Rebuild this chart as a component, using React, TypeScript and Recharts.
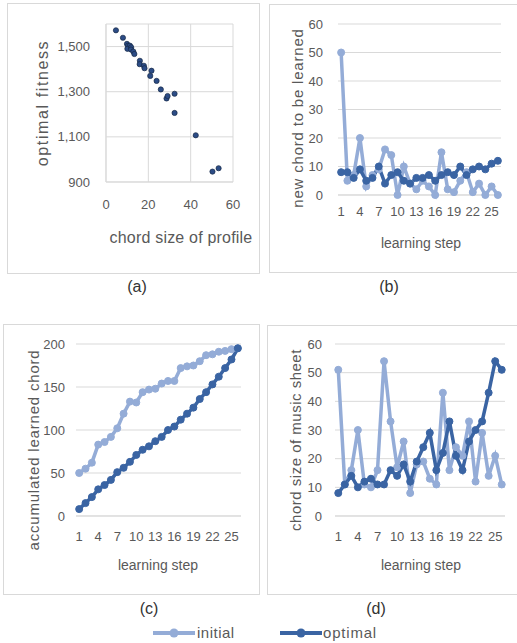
import React from "react";
import {
  LineChart,
  Line,
  ScatterChart,
  Scatter,
  XAxis,
  YAxis,
  CartesianGrid,
} from "recharts";

// ---------- data ----------
const profileChordSize = [4.7, 8.0, 9.9, 10.4, 11.3, 10.1, 11.9, 11.8, 12.9, 13.4, 16.0, 15.9, 17.9, 18.2, 21.5, 20.9, 23.9, 25.9, 28.6, 29.1, 32.4, 32.4, 42.4, 50.3, 53.2];
const optimalFitness = [1572, 1539, 1512, 1504, 1504, 1490, 1497, 1487, 1478, 1467, 1437, 1422, 1415, 1404, 1393, 1370, 1348, 1310, 1270, 1281, 1291, 1206, 1107, 946, 961];

const steps = [1, 2, 3, 4, 5, 6, 7, 8, 9, 10, 11, 12, 13, 14, 15, 16, 17, 18, 19, 20, 21, 22, 23, 24, 25, 26];
const stepTicks = [1, 4, 7, 10, 13, 16, 19, 22, 25];

const newChordInitial = [50, 5, 7, 20, 3, 7, 9, 16, 14, 0, 10, 4, 2, 5, 3, 0, 15, 2, 1, 5, 8, 1, 4, 0, 3, 0];
const newChordOptimal = [8, 8, 6, 9, 5, 6, 10, 4, 7, 8, 5, 4, 6, 6, 7, 5, 7, 8, 7, 10, 7, 9, 10, 9, 11, 12];

const accInitial = [50, 55, 62, 83, 86, 92, 102, 119, 133, 132, 144, 147, 148, 154, 157, 157, 172, 174, 175, 180, 187, 188, 191, 192, 194, 195];
const accOptimal = [8, 15, 22, 31, 36, 42, 51, 56, 63, 71, 77, 81, 87, 92, 100, 104, 112, 119, 126, 136, 144, 153, 162, 172, 182, 195];

const sheetInitial = [51, 11, 16, 30, 11, 10, 16, 54, 33, 17, 26, 8, 18, 19, 13, 11, 43, 16, 24, 21, 33, 12, 29, 14, 21, 11];
const sheetOptimal = [8, 11, 14, 10, 12, 13, 11, 11, 16, 14, 18, 12, 19, 24, 29, 16, 22, 33, 21, 16, 26, 30, 33, 43, 54, 51];

const fitnessTicks = [900, 1100, 1300, 1500];
const sizeTicks = [0, 20, 40, 60];
const ticks60 = [0, 10, 20, 30, 40, 50, 60];
const ticks200 = [0, 50, 100, 150, 200];

// ---------- tables ----------
const scatterData = profileChordSize.map((x, i) => ({ x, y: optimalFitness[i] }));
const mk = (a: number[], b: number[]) => steps.map((s, i) => ({ step: s, initial: a[i], optimal: b[i] }));
const dataB = mk(newChordInitial, newChordOptimal);
const dataC = mk(accInitial, accOptimal);
const dataD = mk(sheetInitial, sheetOptimal);

// ---------- styles ----------
const FONT = "'Liberation Sans', Arial, sans-serif";
const TXT = "#595959";
const GRID = "#D9D9D9";
const LIGHT = "#94ACD7";
const DARK = "#3A64A3";
const tickStyle = { fill: TXT, fontSize: 13, fontFamily: FONT };

const Box = ({ l, t, w, h }: any) => (
  <div style={{ position: "absolute", left: l, top: t, width: w, height: h, border: `1px solid ${GRID}`, boxSizing: "border-box" }} />
);

const HText = ({ cx, cy, text, size = 14, spacing = 0, color = TXT }: any) => (
  <div style={{ position: "absolute", left: cx, top: cy, transform: "translate(-50%,-50%)", whiteSpace: "nowrap", fontFamily: FONT, fontSize: size, letterSpacing: spacing, color, lineHeight: 1 }}>{text}</div>
);

const VText = ({ cx, cy, text, size = 15, spacing = 0 }: any) => (
  <div style={{ position: "absolute", left: cx, top: cy, transform: "translate(-50%,-50%) rotate(-90deg)", whiteSpace: "nowrap", fontFamily: FONT, fontSize: size, letterSpacing: spacing, color: TXT, lineHeight: 1 }}>{text}</div>
);

const Dot = (props: any) => (
  <circle cx={props.cx} cy={props.cy} r={2.6} fill="#2C4C86" stroke="#162845" strokeWidth={0.7} />
);

const lines = () => [
  <Line key="i" type="linear" dataKey="initial" stroke={LIGHT} strokeWidth={3.5} dot={{ r: 3.5, fill: LIGHT, stroke: LIGHT, strokeWidth: 1 }} isAnimationActive={false} />,
  <Line key="o" type="linear" dataKey="optimal" stroke={DARK} strokeWidth={3.5} dot={{ r: 3.5, fill: DARK, stroke: DARK, strokeWidth: 1 }} isAnimationActive={false} />,
];

const StepChart = ({ data, w, h, margin, yw, ymax, yticks, yMargin }: any) => (
  <LineChart width={w} height={h} data={data} margin={margin}>
    <CartesianGrid vertical={false} stroke={GRID} />
    <XAxis type="number" dataKey="step" domain={[0.5, 26.5]} ticks={stepTicks} interval={0} height={30} tickLine={false} tickSize={0} tickMargin={margin.xm} axisLine={{ stroke: GRID }} tick={tickStyle} />
    <YAxis type="number" domain={[0, ymax]} ticks={yticks} interval={0} width={yw} tickLine={false} tickSize={0} tickMargin={yMargin} axisLine={false} tick={tickStyle} />
    {lines()}
  </LineChart>
);

const LegendIcon = ({ color }: any) => (
  <svg width={42} height={10} style={{ display: "block" }}>
    <line x1={0} y1={5} x2={42} y2={5} stroke={color} strokeWidth={4} />
    <circle cx={21} cy={5} r={4.5} fill={color} />
  </svg>
);

export default function App() {
  return (
    <div style={{ position: "absolute", left: 0, top: 0, width: 517, height: 643, background: "#fff", overflow: "hidden" }}>
      {/* (a) */}
      <Box l={7} t={3} w={253} h={271} />
      <div style={{ position: "absolute", left: 7, top: 3 }}>
        <ScatterChart width={253} height={271} margin={{ top: 21, right: 27, left: 39, bottom: 62 }}>
          <CartesianGrid stroke={GRID} />
          <XAxis type="number" dataKey="x" domain={[0, 60]} ticks={sizeTicks} interval={0} height={30} tickLine={false} tickSize={0} tickMargin={18} axisLine={{ stroke: GRID }} tick={tickStyle} />
          <YAxis type="number" dataKey="y" domain={[900, 1600]} ticks={fitnessTicks} interval={0} width={60} tickLine={false} tickSize={0} tickMargin={16} axisLine={{ stroke: GRID }} tick={tickStyle} tickFormatter={(v: number) => v.toLocaleString("en-US")} />
          <Scatter data={scatterData} shape={Dot} isAnimationActive={false} />
        </ScatterChart>
      </div>
      <VText cx={43} cy={103} text="optimal fitness" size={16} spacing={1.6} />
      <HText cx={181} cy={238} text="chord size of profile" size={16} spacing={0.2} />

      {/* (b) */}
      <Box l={269} t={4} w={260} h={269} />
      <div style={{ position: "absolute", left: 269, top: 4 }}>
        <StepChart data={dataB} w={248} h={269} margin={{ top: 20, right: 16, left: 39, bottom: 48, xm: 12 }} yw={30} ymax={60} yticks={ticks60} yMargin={15} />
      </div>
      <VText cx={297} cy={118} text="new chord to be learned" size={15} spacing={0.8} />
      <HText cx={421} cy={243} text="learning step" size={14} />

      {/* (c) */}
      <Box l={3} t={324} w={257} h={271} />
      <div style={{ position: "absolute", left: 3, top: 324 }}>
        <StepChart data={dataC} w={257} h={271} margin={{ top: 20, right: 19, left: 33, bottom: 49, xm: 16 }} yw={40} ymax={200} yticks={ticks200} yMargin={11} />
      </div>
      <VText cx={33} cy={450} text="accumulated learned chord" size={15} spacing={0.8} />
      <HText cx={158} cy={565} text="learning step" size={14} />

      {/* (d) */}
      <Box l={267} t={325} w={262} h={270} />
      <div style={{ position: "absolute", left: 267, top: 325 }}>
        <StepChart data={dataD} w={250} h={270} margin={{ top: 19, right: 12, left: 38, bottom: 49, xm: 16 }} yw={30} ymax={60} yticks={ticks60} yMargin={13} />
      </div>
      <VText cx={295} cy={440} text="chord size of music sheet" size={15} spacing={0.5} />
      <HText cx={421} cy={565} text="learning step" size={14} />

      {/* captions */}
      <HText cx={137} cy={287} text="(a)" size={16} color="#333" />
      <HText cx={389} cy={287} text="(b)" size={16} color="#333" />
      <HText cx={149} cy={609} text="(c)" size={16} color="#333" />
      <HText cx={376} cy={609} text="(d)" size={16} color="#333" />

      {/* legend */}
      <div style={{ position: "absolute", left: 153, top: 628 }}><LegendIcon color={LIGHT} /></div>
      <div style={{ position: "absolute", left: 197, top: 625, fontFamily: FONT, fontSize: 15, letterSpacing: 0.5, color: TXT, lineHeight: 1 }}>initial</div>
      <div style={{ position: "absolute", left: 280, top: 628 }}><LegendIcon color={DARK} /></div>
      <div style={{ position: "absolute", left: 323, top: 625, fontFamily: FONT, fontSize: 15, letterSpacing: 0.8, color: TXT, lineHeight: 1 }}>optimal</div>
    </div>
  );
}
